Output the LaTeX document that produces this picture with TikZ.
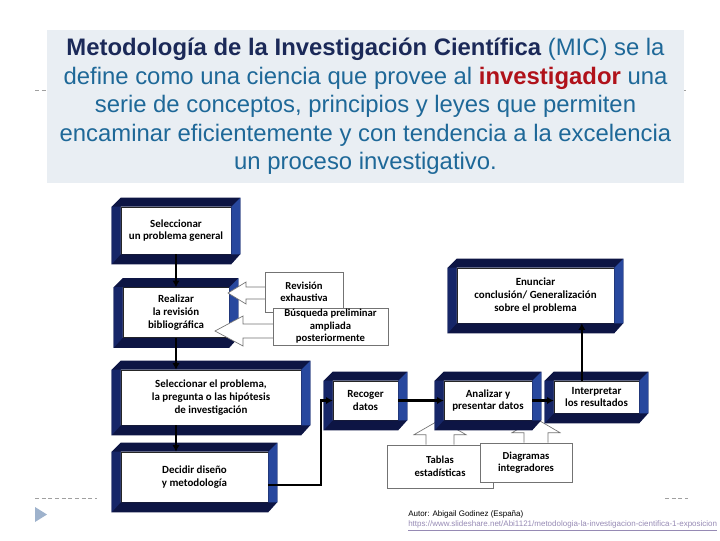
\documentclass[tikz,border=0pt]{standalone}
\usepackage{fontspec}
\setmainfont{Liberation Sans}
\newfontfamily\calfont{Carlito}
\usetikzlibrary{positioning,calc,arrows.meta}

\definecolor{fondoCab}{RGB}{233,238,243}
\definecolor{tituloC}{RGB}{27,41,88}
\definecolor{textoC}{RGB}{30,104,152}
\definecolor{rojoC}{RGB}{176,18,26}
\definecolor{navyO}{RGB}{13,21,68}
\definecolor{navyI}{RGB}{22,38,104}
\definecolor{navyD}{RGB}{40,72,158}
\definecolor{guion}{RGB}{160,160,160}
\definecolor{flechaG}{RGB}{158,178,204}
\definecolor{enlace}{RGB}{150,138,180}

\tikzset{
  paso/.style={fill=white, draw=black!85, line width=0.4pt, align=center, inner sep=1pt,
    font=\calfont\bfseries\fontsize{8.2}{9.6}\selectfont},
  nota/.style={fill=white, draw=black!55, line width=0.5pt, align=center, inner sep=1pt,
    font=\calfont\bfseries\fontsize{8}{9.4}\selectfont},
  globo/.style={fill=white, draw=black!55, line width=0.5pt, line join=miter},
  flecha/.style={line width=1.8pt, -{Latex[length=5pt,width=5.5pt]}}
}

\begin{document}
\begin{tikzpicture}[x=0.75pt,y=-0.75pt]
\useasboundingbox (0,0) rectangle (720,540);

%Straight Lines (slide guides)
\draw [guion, line width=0.6pt, dash pattern={on 3pt off 2pt}] (35,90) -- (686,90) ;
\draw [guion, line width=0.6pt, dash pattern={on 3pt off 2pt}] (35,498) -- (97,498) ;
\draw [guion, line width=0.6pt, dash pattern={on 3pt off 2pt}] (665,498) -- (688,498) ;
%Shape: Triangle
\fill [flechaG] (35,507) -- (47,514.5) -- (35,522) -- cycle ;

% Text Node (header)
\node [fill=fondoCab, minimum width=477.75pt, minimum height=114.75pt, align=center,
  text=textoC, font=\fontsize{17.9}{21.3}\selectfont] (cab) at (365.5,106.5)
  {{\color{tituloC}\bfseries Metodología de la Investigación Científica} (MIC) se la\\
   define como una ciencia que provee al {\color{rojoC}\bfseries investigador} una\\
   serie de conceptos, principios y leyes que permiten\\
   encaminar eficientemente y con tendencia a la excelencia\\
   un proceso investigativo.};

% Text Node (source)
\node [anchor=west, inner sep=0pt, font=\fontsize{6}{6.5}\selectfont] (autor) at (408,514)
  {Autor: Abigail Godinez (España)};
\node [anchor=west, inner sep=0pt, text=enlace, font=\fontsize{6}{6.5}\selectfont] (url) at (408,525.5)
  {\underline{https://www.slideshare.net/Abi1121/metodologia-la-investigacion-cientifica-1-exposicion}};

%Shape: Callouts below "Analizar y presentar datos"
\node [nota, minimum width=79.5pt, minimum height=32.25pt] (c3) at (440,466.5) {Tablas\\estadísticas};
\begin{scope}[shift={(c3.north)}]
\draw [globo] (-14,0) -- (-14,-10) -- (-26,-10) -- (0,-25) -- (26,-10) -- (14,-10) -- (14,0) ;
\end{scope}
\node [nota, minimum width=69pt, minimum height=29.25pt] (c4) at (526,462.5) {Diagramas\\integradores};
\begin{scope}[shift={(c4.north)}]
\draw [globo] (-2,0) -- (-2,-10) -- (-14,-10) -- (10,-24) -- (34,-10) -- (22,-10) -- (22,0) ;
\end{scope}

% Steps
\node [paso, minimum width=82.5pt, minimum height=35.25pt] (b1) at (176,230.5) {Seleccionar\\un problema general};
\node [paso, minimum width=79.5pt, minimum height=37.5pt] (b2) at (176,312.5) {Realizar\\la revisión\\bibliográfica};
\node [paso, minimum width=135pt, minimum height=41.25pt] (b3) at (211,397.5) {Seleccionar el problema,\\la pregunta o las hipótesis\\de investigación};
\node [paso, minimum width=110.25pt, minimum height=37.5pt] (b4) at (194.5,477) {Decidir diseño\\y metodología};
\node [paso, minimum width=48.75pt, minimum height=29.25pt] (b5) at (365.5,400.5) {Recoger\\datos};
\node [paso, minimum width=66pt, minimum height=29.25pt] (b6) at (488,400.5) {Analizar y\\presentar datos};
\node [paso, minimum width=63.75pt, minimum height=24pt] (b7) at (596.5,397) {Interpretar\\los resultados};
\node [paso, minimum width=117.75pt, minimum height=41.25pt] (b8) at (535.5,295.5) {Enunciar\\conclusión/ Generalización\\sobre el problema};

%Shape: 3D frames round the steps
\foreach \n in {b1,b2,b3,b4,b5,b6,b7,b8} {
  \fill [navyO, even odd rule] ($(\n.north west)+(-9,0)$) -- ($(\n.north west)+(0,-9)$)
    -- ($(\n.north east)+(9,-9)$) -- ($(\n.south east)+(9,0)$) -- ($(\n.south east)+(0,10)$)
    -- ($(\n.south west)+(-9,10)$) -- cycle (\n.north west) rectangle (\n.south east) ;
  \fill [navyI] ($(\n.north west)+(-9,0)$) -- (\n.north west) -- (\n.south west)
    -- ($(\n.south west)+(-9,10)$) -- cycle ;
  \fill [navyD] (\n.north east) -- ($(\n.north east)+(9,-9)$) -- ($(\n.south east)+(9,0)$)
    -- (\n.south east) -- cycle ;
}

% Connectors
\coordinate (k7) at ([xshift=-11pt]b7.north) ;
\draw [flecha] (b1.south) -- (b2.north) ;
\draw [flecha] (b2.south) -- (b2.south |- b3.north) ;
\draw [flecha] (b2.south |- b3.south) -- (b2.south |- b4.north) ;
\draw [flecha] ([yshift=-6pt]b4.east) -| ($(b5.west)+(-12,0)$) -- (b5.west) ;
\draw [flecha] (b5.east) -- (b6.west) ;
\draw [flecha] (b6.east) -- (b6.east -| b7.west) ;
\draw [flecha] (k7) -- (k7 |- b8.south) ;

%Shape: Callouts beside "Realizar la revisión bibliográfica"
\begin{scope}[shift={(265,292)}]
\draw [globo] (0,-5) -- (-19,-5) -- (-19,-10) -- (-37,1) -- (-19,12) -- (-19,7) -- (0,7) ;
\end{scope}
\node [nota, minimum width=58.5pt, minimum height=30pt] (c1) at (304,292) {Revisión\\exhaustiva};
\begin{scope}[shift={(273,326.5)}]
\draw [globo] (0,-2.5) -- (-30,-2.5) -- (-30,-10.5) -- (-58,4.5) -- (-30,19.5) -- (-30,11.5) -- (0,11.5) ;
\end{scope}
\node [nota, minimum width=86.25pt, minimum height=23.25pt] (c2) at (330.5,326.5) {Búsqueda preliminar\\ampliada\\posteriormente};

\end{tikzpicture}
\end{document}
